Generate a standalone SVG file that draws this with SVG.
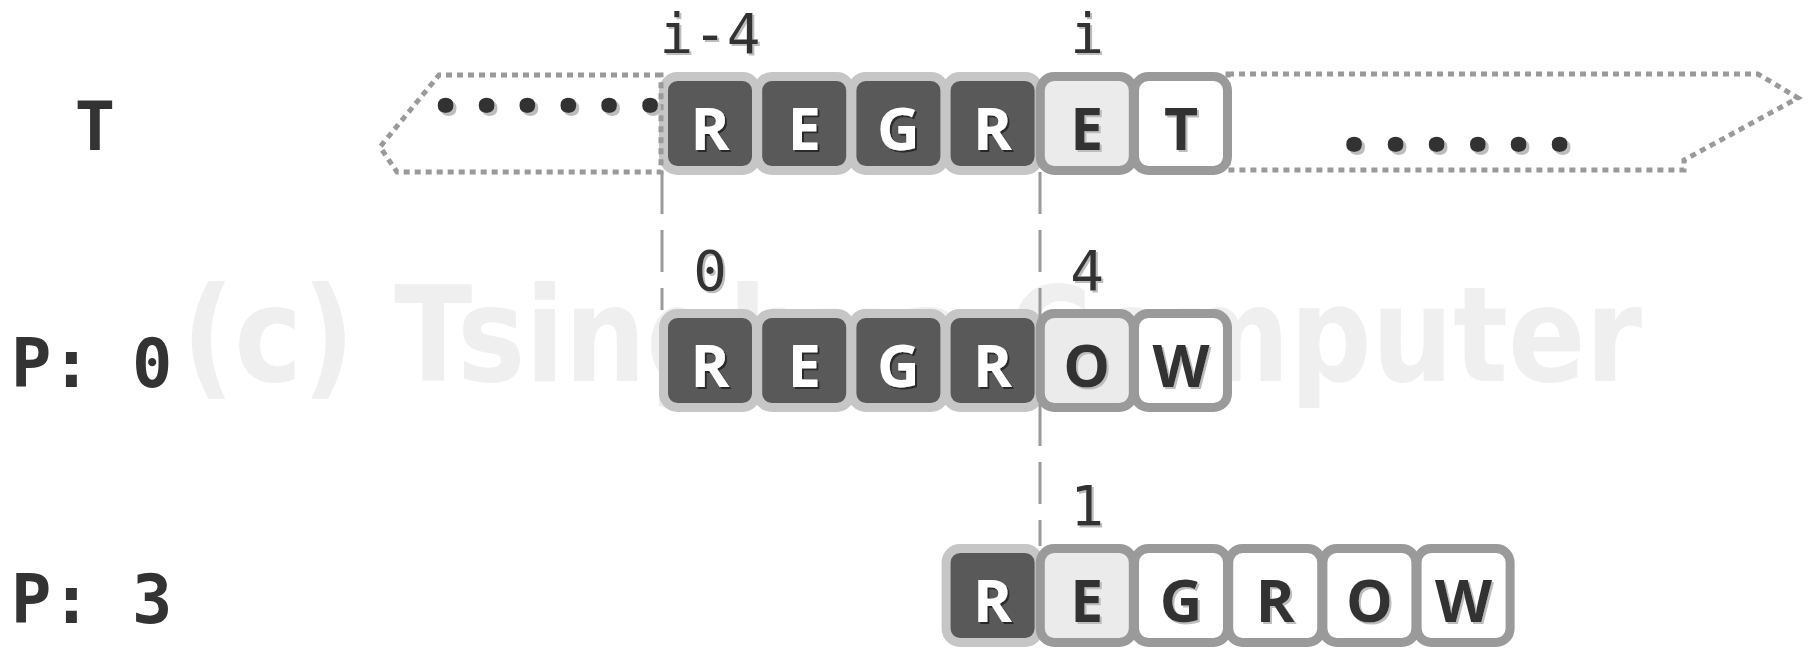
<svg xmlns="http://www.w3.org/2000/svg" width="1818" height="655" viewBox="0 0 1818 655">
<style>
.bx{stroke-width:9}
.dk{fill:#595959;stroke:#c6c6c6}
.lt{fill:#ebebeb;stroke:#9a9a9a}
.wh{fill:#ffffff;stroke:#9a9a9a}
.ch{font-family:"Open Sans","Liberation Sans",sans-serif;font-weight:700;font-size:59px;text-anchor:middle}
.cw{fill:#ffffff;filter:url(#shD)}
.cb{fill:#333333;filter:url(#shL)}
.idx{font-family:"DejaVu Sans Mono","Liberation Mono",monospace;font-size:56px;fill:#333333;text-anchor:middle;filter:url(#shL)}
.row{font-family:"DejaVu Sans Mono","Liberation Mono",monospace;font-weight:700;font-size:67px;fill:#333333}
.dots{font-family:"Open Sans","Noto Sans",sans-serif;font-weight:700;font-size:92px;fill:#333333;text-anchor:middle;filter:url(#shL3)}
.outline{fill:none;stroke:#9a9a9a;stroke-width:5;stroke-dasharray:6 5}
.conn{fill:none;stroke:#9a9a9a;stroke-width:3;stroke-dasharray:42 16}
.wm{font-family:"DejaVu Sans","Verdana",sans-serif;font-weight:700;font-size:132px;fill:#efefef}
</style>
<defs>
<filter id="shD" x="-20%" y="-20%" width="150%" height="150%">
<feFlood flood-color="#2a2a2a"/><feComposite in2="SourceAlpha" operator="in"/><feOffset dx="2" dy="2" result="s"/>
<feMerge><feMergeNode in="s"/><feMergeNode in="SourceGraphic"/></feMerge>
</filter>
<filter id="shL" x="-20%" y="-20%" width="150%" height="150%">
<feFlood flood-color="#bdbdbd"/><feComposite in2="SourceAlpha" operator="in"/><feOffset dx="2" dy="2" result="s"/>
<feMerge><feMergeNode in="s"/><feMergeNode in="SourceGraphic"/></feMerge>
</filter>
<filter id="shL3" x="-20%" y="-20%" width="150%" height="150%">
<feFlood flood-color="#bdbdbd"/><feComposite in2="SourceAlpha" operator="in"/><feOffset dx="3" dy="3" result="s"/>
<feMerge><feMergeNode in="s"/><feMergeNode in="SourceGraphic"/></feMerge>
</filter>
</defs>
<rect width="1818" height="655" fill="#ffffff"/>

<g id="watermark">
<text class="wm" x="182" y="381" textLength="1460" lengthAdjust="spacingAndGlyphs">(c) Tsinghua Computer</text>
</g>

<g id="label-T"><text class="row" x="95" y="150" text-anchor="middle">T</text></g>
<g id="label-P0"><text class="row" x="11" y="387">P: 0</text></g>
<g id="label-P3"><text class="row" x="11" y="623">P: 3</text></g>

<g id="text-T">
<rect class="bx dk" x="663.5" y="76.5" width="93" height="94" rx="14"/>
<rect class="bx dk" x="757.7" y="76.5" width="93" height="94" rx="14"/>
<rect class="bx dk" x="851.9" y="76.5" width="93" height="94" rx="14"/>
<rect class="bx dk" x="946.1" y="76.5" width="93" height="94" rx="14"/>
<rect class="bx lt" x="1040.3" y="76.5" width="93" height="94" rx="14"/>
<rect class="bx wh" x="1134.5" y="76.5" width="93" height="94" rx="14"/>
<text class="ch cw" x="710" y="150">R</text>
<text class="ch cw" x="804.2" y="150">E</text>
<text class="ch cw" x="898.4" y="150">G</text>
<text class="ch cw" x="992.6" y="150">R</text>
<text class="ch cb" x="1086.8" y="150">E</text>
<text class="ch cb" x="1181" y="150">T</text>
<path class="outline" d="M661,75 L439,75 L380,147 L397,172 L661,172 Z"/>
<path class="outline" d="M1228,74 L1758,74 L1798,98 L1684,160 L1684,170 L1228,170 Z"/>
<text class="dots" x="445.7 486.7 527.3 568.3 609 650" y="112">......</text>
<text class="dots" x="1354 1395.6 1436.5 1477.8 1518.5 1559.6" y="151">......</text>
</g>

<g id="pattern-P0">
<rect class="bx dk" x="663.5" y="313.5" width="93" height="94" rx="14"/>
<rect class="bx dk" x="757.7" y="313.5" width="93" height="94" rx="14"/>
<rect class="bx dk" x="851.9" y="313.5" width="93" height="94" rx="14"/>
<rect class="bx dk" x="946.1" y="313.5" width="93" height="94" rx="14"/>
<rect class="bx lt" x="1040.3" y="313.5" width="93" height="94" rx="14"/>
<rect class="bx wh" x="1134.5" y="313.5" width="93" height="94" rx="14"/>
<text class="ch cw" x="710" y="387">R</text>
<text class="ch cw" x="804.2" y="387">E</text>
<text class="ch cw" x="898.4" y="387">G</text>
<text class="ch cw" x="992.6" y="387">R</text>
<text class="ch cb" x="1086.8" y="387">O</text>
<text class="ch cb" x="1181" y="387">W</text>
</g>

<g id="pattern-P3">
<rect class="bx dk" x="946.1" y="548.5" width="93" height="94" rx="14"/>
<rect class="bx lt" x="1040.3" y="548.5" width="93" height="94" rx="14"/>
<rect class="bx wh" x="1134.5" y="548.5" width="93" height="94" rx="14"/>
<rect class="bx wh" x="1228.7" y="548.5" width="93" height="94" rx="14"/>
<rect class="bx wh" x="1322.9" y="548.5" width="93" height="94" rx="14"/>
<rect class="bx wh" x="1417.1" y="548.5" width="93" height="94" rx="14"/>
<text class="ch cw" x="992.6" y="622">R</text>
<text class="ch cb" x="1086.8" y="622">E</text>
<text class="ch cb" x="1181" y="622">G</text>
<text class="ch cb" x="1275.2" y="622">R</text>
<text class="ch cb" x="1369.4" y="622">O</text>
<text class="ch cb" x="1463.6" y="622">W</text>
</g>

<g id="connectors">
<path class="conn" d="M662,172 L662,310"/>
<path class="conn" d="M1040,172 L1040,546"/>
</g>

<g id="indices">
<text class="idx" x="710" y="53">i-4</text>
<text class="idx" x="1087" y="53">i</text>
<text class="idx" x="710" y="290">0</text>
<text class="idx" x="1087" y="290">4</text>
<text class="idx" x="1087" y="525">1</text>
</g>
</svg>
